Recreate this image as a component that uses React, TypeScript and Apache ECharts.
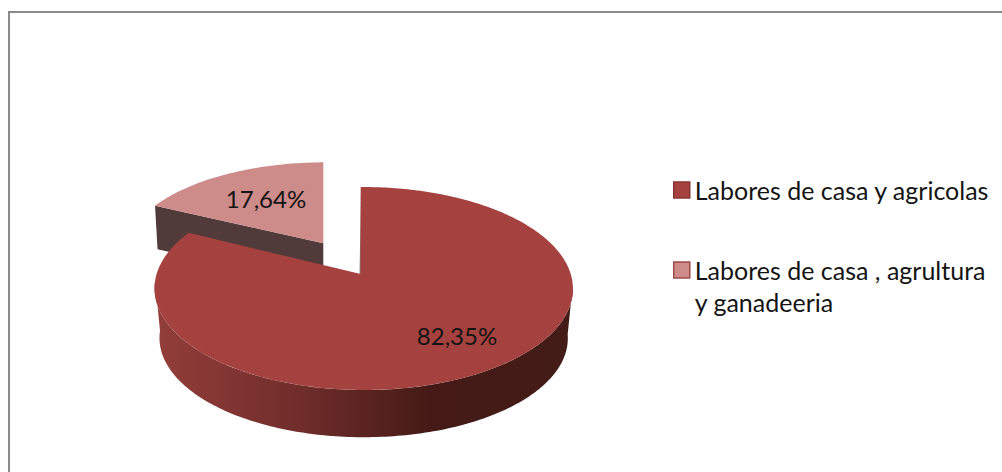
import React, { useEffect, useRef } from "react";
import * as echarts from "echarts";

const categories = ["Labores de casa y agricolas", "Labores de casa , agrultura\ny ganadeeria"];
const values = [82.35, 17.64];
const faceColors = ["#a5423f", "#cd8b8a"];
const edgeColors = ["#8a3432", "#a04a48"];
const fontFamily = "Lato";

const total = values.reduce((a, b) => a + b, 0);
const formatLabel = (v: number) => v.toFixed(2).replace(".", ",") + "%";

// Perspective of each (exploded) slice: centre, radii, depth foreshortening, extrusion.
const views = [
  { cx: 360.7, cy: 274, rx: 207, ry: 99.4, k: 0.143, j: -0.0143, drop: 50, shrink: 0.976, labelX: 457, labelY: 335 },
  { cx: 323.3, cy: 243.3, rx: 198.6, ry: 88.9, k: 0.0977, j: -0.0143, drop: 43, shrink: 0.985, labelX: 266, labelY: 198 },
];

type View = (typeof views)[number];
const project = (v: View, deg: number, lower: boolean): number[] => {
  const t = (deg * Math.PI) / 180;
  const X = Math.sin(t);
  const Y = Math.cos(t);
  const w = 1 + v.k * Y + v.j * X;
  const s = lower ? v.shrink : 1;
  return [v.cx + (s * v.rx * X) / w, v.cy + (lower ? v.drop : 0) - (s * v.ry * Y) / w];
};
const arc = (v: View, from: number, to: number, lower: boolean): number[][] => {
  const n = Math.max(2, Math.ceil(Math.abs(to - from)));
  const pts: number[][] = [];
  for (let i = 0; i <= n; i++) pts.push(project(v, from + ((to - from) * i) / n, lower));
  return pts;
};

const sideGradient = {
  type: "linear",
  global: true,
  x: 154,
  y: 0,
  x2: 573,
  y2: 0,
  colorStops: [
    { offset: 0, color: "#933e39" },
    { offset: 0.35, color: "#702d2b" },
    { offset: 0.66, color: "#451a16" },
    { offset: 1, color: "#431b17" },
  ],
};

const makeRender = (index: number) => (_params: any, api: any) => {
  const value = api.value(0) as number;
  const before = values.slice(0, index).reduce((a, b) => a + b, 0);
  const start = (before / total) * 360;
  const end = start + (value / total) * 360;
  const v = views[index];
  const children: any[] = [];
  const apex = [v.cx, v.cy];
  if (index === 0) {
    const upper = arc(v, 96, 266, false);
    const lower = arc(v, 96, 266, true).reverse();
    children.push({ type: "polygon", shape: { points: upper.concat(lower) }, style: { fill: sideGradient } });
    children.push({
      type: "polygon",
      shape: { points: [apex, project(v, 0, false), [v.cx - 1, v.cy]] },
      style: { fill: "#5a2a28" },
    });
  } else {
    children.push({
      type: "polygon",
      shape: {
        points: [project(v, start, false), apex, [v.cx, v.cy + v.drop], project(v, start, true)],
      },
      style: { fill: "#503a3a" },
    });
  }
  children.push({
    type: "polygon",
    shape: { points: [apex, ...arc(v, start, end, false)] },
    style: { fill: faceColors[index] },
  });
  children.push({
    type: "text",
    style: {
      x: v.labelX,
      y: v.labelY,
      text: formatLabel(value),
      fill: "#141414",
      font: `24px ${fontFamily}`,
      align: "center",
      verticalAlign: "middle",
    },
  });
  return { type: "group", children };
};

export default function App() {
  const ref = useRef<HTMLDivElement>(null);
  useEffect(() => {
    document.body.style.margin = "0";
    const chart = echarts.init(ref.current!, null, { renderer: "svg" });
    chart.setOption({
      animation: false,
      backgroundColor: "#ffffff",
      textStyle: { fontFamily },
      graphic: [
        {
          type: "rect",
          silent: true,
          shape: { x: 9, y: 12, width: 1100, height: 600 },
          style: { fill: "none", stroke: "#8a8a8a", lineWidth: 2 },
        },
      ],
      legend: {
        orient: "vertical",
        left: 668,
        top: 169,
        itemWidth: 16,
        itemHeight: 16,
        itemGap: 16,
        icon: "rect",
        selectedMode: false,
        // A leading blank line centres the icon on the first line of a two-line entry.
        formatter: (name: string) => (name.includes("\n") ? "\n" + name : name),
        textStyle: { fontSize: 25, color: "#141414", fontFamily, lineHeight: 32 },
        data: [
          { name: categories[0], itemStyle: { color: faceColors[0], borderColor: edgeColors[0], borderWidth: 1.5 } },
          { name: categories[1], itemStyle: { color: faceColors[1], borderColor: edgeColors[1], borderWidth: 1.5 } },
        ],
      },
      // Small slice first: the large one overlaps it.
      series: [1, 0].map((i) => ({
        type: "custom",
        name: categories[i],
        coordinateSystem: "none",
        silent: true,
        itemStyle: { color: faceColors[i] },
        data: [[values[i]]],
        renderItem: makeRender(i),
      })),
    });
    return () => chart.dispose();
  }, []);
  return <div ref={ref} style={{ position: "fixed", left: 0, top: 0, width: 1002, height: 472 }} />;
}
